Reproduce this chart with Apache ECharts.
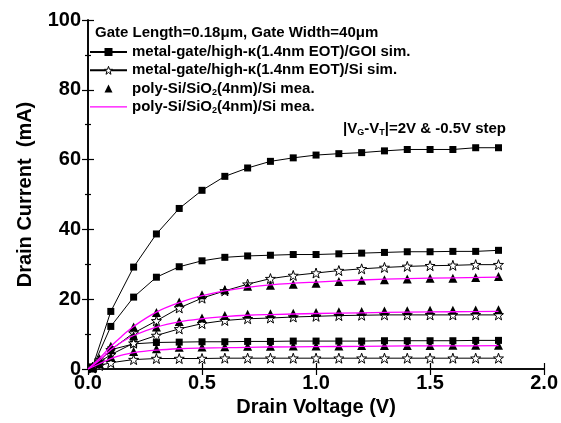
<!DOCTYPE html>
<html>
<head>
<meta charset="utf-8">
<script src="https://cdn.jsdelivr.net/npm/echarts@6/dist/echarts.min.js"></script>
<style>
html,body{margin:0;padding:0;background:#fff;}
#chart{width:561px;height:423px;}
</style>
</head>
<body>
<div id="chart"></div>
<script>
// ---- data ----
var xTicks = [0.0, 0.5, 1.0, 1.5, 2.0];
var yTicks = [0, 20, 40, 60, 80, 100];

var nameGOI = 'metal-gate/high-\u03ba(1.4nm EOT)/GOI sim.';
var nameSi  = 'metal-gate/high-\u03ba(1.4nm EOT)/Si sim.';
var nameTri = 'poly-Si/SiO2(4nm)/Si mea.';
var nameMg  = 'poly-Si/SiO2(4nm)/Si mea. ';

// GOI simulation (filled squares)
var vSq  = [0.02, 0.1, 0.2, 0.3, 0.4, 0.5, 0.6, 0.7, 0.8, 0.9, 1.0, 1.1, 1.2, 1.3, 1.4, 1.5, 1.6, 1.7, 1.8];
var goi1 = [0.6, 16.5, 29.2, 38.7, 46.0, 51.2, 55.2, 57.6, 59.5, 60.5, 61.3, 61.7, 62.0, 62.5, 62.9, 62.9, 62.9, 63.4, 63.4];
var goi2 = [0.4, 12.2, 20.6, 26.3, 29.3, 31.0, 32.0, 32.4, 32.6, 32.8, 32.8, 33.0, 33.2, 33.4, 33.6, 33.6, 33.7, 33.7, 34.0];
var goi3 = [0.3, 5.5, 7.2, 7.6, 7.7, 7.8, 7.8, 7.9, 7.9, 8.0, 8.0, 8.0, 8.0, 8.1, 8.1, 8.1, 8.1, 8.2, 8.2];

// Si simulation (open stars)
var vSt = [0.02, 0.05, 0.1, 0.2, 0.3, 0.4, 0.5, 0.6, 0.7, 0.8, 0.9, 1.0, 1.1, 1.2, 1.3, 1.4, 1.5, 1.6, 1.7, 1.8];
var si1 = [0.5, 2.5, 5.5, 10.3, 13.8, 17.5, 20.3, 22.4, 24.3, 25.9, 26.8, 27.5, 28.2, 28.7, 29.1, 29.4, 29.6, 29.7, 29.9, 29.9];
var si2 = [0.4, 2.0, 4.1, 7.4, 9.6, 11.5, 13.0, 13.9, 14.4, 14.6, 14.9, 15.1, 15.3, 15.4, 15.5, 15.5, 15.5, 15.5, 15.5, 15.5];
var si3 = [0.3, 1.0, 1.8, 2.7, 3.0, 3.0, 3.0, 3.1, 3.1, 3.1, 3.1, 3.1, 3.1, 3.1, 3.1, 3.1, 3.1, 3.1, 3.1, 3.1];

// poly-Si measurement (filled triangles)
var vTr = [0.02, 0.05, 0.1, 0.2, 0.3, 0.4, 0.5, 0.6, 0.7, 0.8, 0.9, 1.0, 1.1, 1.2, 1.3, 1.4, 1.5, 1.6, 1.7, 1.8];
var tr1 = [0.5, 3.0, 6.5, 12.0, 16.2, 19.2, 21.3, 22.7, 23.7, 24.0, 24.3, 24.6, 25.1, 25.4, 25.6, 25.8, 26.0, 26.0, 26.2, 26.5];
var tr2 = [0.4, 2.5, 5.5, 9.5, 12.0, 13.6, 14.6, 15.3, 15.7, 15.8, 16.0, 16.2, 16.4, 16.5, 16.6, 16.7, 16.8, 16.8, 16.9, 17.0];
var tr3 = [0.3, 1.5, 3.5, 5.0, 5.8, 6.2, 6.3, 6.4, 6.5, 6.5, 6.6, 6.6, 6.6, 6.7, 6.7, 6.7, 6.7, 6.8, 6.8, 6.8];

// poly-Si measurement (magenta line)
var vMg = [0, 0.05, 0.1, 0.15, 0.2, 0.3, 0.4, 0.5, 0.6, 0.7, 0.8, 1.0, 1.2, 1.4, 1.6, 1.8];
var mg1 = [0, 3.0, 6.5, 9.5, 12.2, 16.3, 19.0, 21.0, 22.4, 23.4, 24.1, 24.9, 25.5, 25.9, 26.1, 26.3];
var mg2 = [0, 2.5, 5.5, 7.8, 9.6, 12.0, 13.5, 14.4, 15.0, 15.4, 15.6, 15.9, 16.1, 16.3, 16.4, 16.5];
var mg3 = [0, 1.5, 3.0, 4.0, 4.7, 5.4, 5.8, 6.0, 6.1, 6.2, 6.3, 6.4, 6.5, 6.6, 6.6, 6.7];

// ---- build ----
var FONT = '"Liberation Sans", Arial, Helvetica, sans-serif';
var STAR = 'path://M50 0 L61.76 33.82 L97.55 34.55 L69.02 56.18 L79.39 90.45 L50 70 L20.61 90.45 L30.98 56.18 L2.45 34.55 L38.24 33.82 Z';

function pairs(xs, ys) { return xs.map(function (x, i) { return [x, ys[i]]; }); }

var series = [];
[goi1, goi2, goi3].forEach(function (ys) {
  series.push({
    name: nameGOI, type: 'line', data: pairs(vSq, ys),
    symbol: 'rect', symbolSize: 7,
    itemStyle: { color: '#000' },
    lineStyle: { color: '#000', width: 1 },
    z: 3
  });
});
[si1, si2, si3].forEach(function (ys) {
  series.push({
    name: nameSi, type: 'line', data: pairs(vSt, ys),
    symbol: STAR, symbolSize: 10,
    itemStyle: { color: '#fff', borderColor: '#000', borderWidth: 1 },
    lineStyle: { color: '#000', width: 1 },
    z: 3
  });
});
[tr1, tr2, tr3].forEach(function (ys) {
  series.push({
    name: nameTri, type: 'line', data: pairs(vTr, ys),
    symbol: 'triangle', symbolSize: 9,
    itemStyle: { color: '#000' },
    lineStyle: { color: '#000', width: 0, opacity: 0 },
    z: 4
  });
});
[mg1, mg2, mg3].forEach(function (ys) {
  series.push({
    name: nameMg, type: 'line', data: pairs(vMg, ys),
    symbol: 'none', smooth: 0.4,
    itemStyle: { color: '#ff00ff' },
    lineStyle: { color: '#ff00ff', width: 1.3 },
    z: 5
  });
});

var axisLine = { show: true, lineStyle: { color: '#000', width: 1.6 } };
var labelStyle = { color: '#000', fontFamily: FONT, fontWeight: 'bold', fontSize: 20 };

var chart = echarts.init(document.getElementById('chart'), null, { renderer: 'canvas' });
chart.setOption({
  animation: false,
  backgroundColor: '#fff',
  title: {
    text: 'Gate Length=0.18\u03bcm, Gate Width=40\u03bcm',
    left: 95, top: 25, padding: 0,
    textStyle: { fontFamily: FONT, fontWeight: 'bold', fontSize: 15, color: '#000', lineHeight: 16 }
  },
  grid: { left: 88, right: 14, top: 20, bottom: 54, containLabel: false },
  legend: {
    orient: 'vertical', left: 89, top: 44, padding: 0,
    itemWidth: 37, itemHeight: 10, itemGap: 2.3,
    selectedMode: false,
    data: [
      { name: nameGOI, itemStyle: { color: '#000' } },
      { name: nameSi, itemStyle: { color: '#fff', borderColor: '#000', borderWidth: 1 } },
      { name: nameTri, itemStyle: { color: '#000' }, lineStyle: { opacity: 0, width: 0 } },
      { name: nameMg, itemStyle: { opacity: 0 }, lineStyle: { color: '#ff00ff', width: 1.3 } }
    ],
    formatter: function (n) { return n.replace('SiO2', 'SiO{s|2}'); },
    textStyle: {
      fontFamily: FONT, fontWeight: 'bold', fontSize: 15, color: '#000', lineHeight: 16,
      rich: { s: { fontFamily: FONT, fontWeight: 'bold', fontSize: 9, color: '#000', lineHeight: 6, verticalAlign: 'bottom' } }
    }
  },
  graphic: [{
    type: 'text', left: 343, top: 121,
    style: {
      text: '|V{s|G}-V{s|T}|=2V & -0.5V step',
      fontFamily: FONT, fontWeight: 'bold', fontSize: 15, fill: '#000', lineHeight: 16,
      rich: { s: { fontFamily: FONT, fontWeight: 'bold', fontSize: 9, fill: '#000', lineHeight: 6, verticalAlign: 'bottom' } }
    }
  }],
  xAxis: [{
    type: 'value', min: 0, max: 2, interval: 0.5,
    name: 'Drain Voltage (V)', nameLocation: 'middle', nameGap: 28,
    nameTextStyle: { color: '#000', fontFamily: FONT, fontWeight: 'bold', fontSize: 20 },
    axisLine: axisLine,
    axisTick: { show: true, inside: true, length: 6, lineStyle: { color: '#000', width: 1.2 } },
    axisLabel: Object.assign({ margin: 4, formatter: function (v) { return v.toFixed(1); } }, labelStyle),
    splitLine: { show: false }
  }, {
    type: 'value', position: 'top', min: 0, max: 2, interval: 0.5,
    axisLine: axisLine,
    axisTick: { show: true, inside: true, length: 6, lineStyle: { color: '#000', width: 1.2 } },
    axisLabel: { show: false },
    splitLine: { show: false }
  }],
  yAxis: [{
    type: 'value', min: 0, max: 100, interval: 20,
    name: 'Drain Current  (mA)', nameLocation: 'middle', nameGap: 53, nameRotate: 90,
    nameTextStyle: { color: '#000', fontFamily: FONT, fontWeight: 'bold', fontSize: 20 },
    axisLine: axisLine,
    axisTick: { show: true, inside: true, length: 6, lineStyle: { color: '#000', width: 1.2 } },
    minorTick: { show: true, splitNumber: 2, length: 3, lineStyle: { color: '#000', width: 1.2 } },
    axisLabel: Object.assign({ margin: 7 }, labelStyle),
    splitLine: { show: false }, minorSplitLine: { show: false }
  }, {
    type: 'value', position: 'right', min: 0, max: 100, interval: 20,
    axisLine: axisLine,
    axisTick: { show: true, inside: true, length: 6, lineStyle: { color: '#000', width: 1.2 } },
    minorTick: { show: true, splitNumber: 2, length: 3, lineStyle: { color: '#000', width: 1.2 } },
    axisLabel: { show: false },
    splitLine: { show: false }, minorSplitLine: { show: false }
  }],
  series: series
});
</script>
</body>
</html>
